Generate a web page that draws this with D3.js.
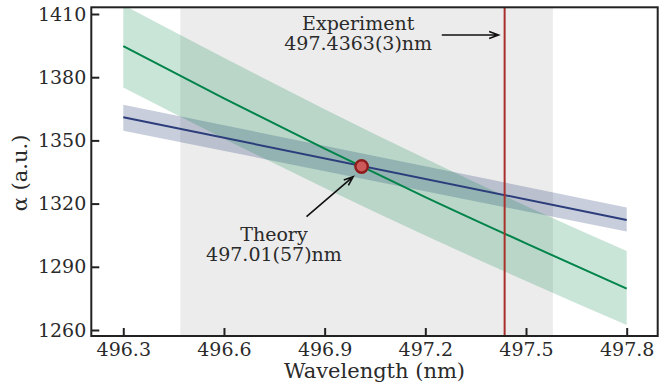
<!DOCTYPE html>
<html>
<head>
<meta charset="utf-8">
<script src="https://cdn.jsdelivr.net/npm/d3@7"></script>
<style>
  body { margin: 0; background: #fff; }
  text { font-family: "DejaVu Serif", serif; fill: #2a2a2a; }
</style>
</head>
<body>
<div id="chart"></div>
<script>
const width = 670;
const height = 384;
const margin = { top: 7.3, right: 12.3, bottom: 48, left: 91.3 };

// values
const wavelengths = [496.3, 496.6, 496.9, 497.2, 497.5, 497.8];
const greenCenter = [1394.7, 1370.0, 1346.1, 1323.1, 1301.1, 1279.6];
const greenLower = [1375.1, 1350.8, 1327.4, 1304.8, 1283.3, 1262.4];
const greenUpper = [1414.3, 1389.2, 1364.8, 1341.4, 1318.9, 1297.5];
const blueEnds = [496.3, 497.8];
const blueCenter = [1361.0, 1312.2];
const blueLower = [1354.6, 1306.7];
const blueUpper = [1366.9, 1318.2];

const theoryPoint = { x: 497.01, y: 1337.6 };
const theoryRange = [496.47, 497.58];
const experiment = 497.4363;

const xTicks = [496.3, 496.6, 496.9, 497.2, 497.5, 497.8];
const yTicks = [1260, 1290, 1320, 1350, 1380, 1410];
const xDomain = [496.2047, 497.8924];
const yDomain = [1257.15, 1413.18];

const labels = [
  { lines: ["Experiment", "497.4363(3)nm"], x: 497.0, y: 1402.4, arrow: [[497.249, 1400.0], [497.418, 1400.0]] },
  { lines: ["Theory", "497.01(57)nm"], x: 496.749, y: 1302.4, arrow: [[496.846, 1313.8], [496.985, 1332.8]] }
];

const svg = d3.select("#chart")
  .append("svg")
  .attr("width", width)
  .attr("height", height);

const x = d3.scaleLinear().domain(xDomain).range([margin.left, width - margin.right]);
const y = d3.scaleLinear().domain(yDomain).range([height - margin.bottom, margin.top]);

svg.append("clipPath").attr("id", "plot")
  .append("rect")
  .attr("x", margin.left).attr("y", margin.top)
  .attr("width", width - margin.left - margin.right)
  .attr("height", height - margin.top - margin.bottom);

const plot = svg.append("g").attr("clip-path", "url(#plot)");

// theory uncertainty span
plot.append("rect")
  .attr("x", x(theoryRange[0]))
  .attr("y", margin.top)
  .attr("width", x(theoryRange[1]) - x(theoryRange[0]))
  .attr("height", height - margin.top - margin.bottom)
  .attr("fill", "#ececec");

const blueRows = blueEnds.map((w, i) => ({ w, c: blueCenter[i], lo: blueLower[i], hi: blueUpper[i] }));
const greenRows = wavelengths.map((w, i) => ({ w, c: greenCenter[i], lo: greenLower[i], hi: greenUpper[i] }));

const area = d3.area().x(d => x(d.w)).y0(d => y(d.lo)).y1(d => y(d.hi));
const line = d3.line().x(d => x(d.w)).y(d => y(d.c)).curve(d3.curveMonotoneX);
area.curve(d3.curveMonotoneX);

plot.append("path").datum(blueRows)
  .attr("d", area)
  .attr("fill", "#283c78").attr("fill-opacity", 0.25);

plot.append("path").datum(greenRows)
  .attr("d", area)
  .attr("fill", "#008246").attr("fill-opacity", 0.21);

plot.append("path").datum(blueRows)
  .attr("d", line)
  .attr("fill", "none").attr("stroke", "#2b3d7a").attr("stroke-width", 2);

plot.append("path").datum(greenRows)
  .attr("d", line)
  .attr("fill", "none").attr("stroke", "#00844a").attr("stroke-width", 2);

plot.append("line")
  .attr("x1", x(experiment)).attr("x2", x(experiment))
  .attr("y1", margin.top).attr("y2", height - margin.bottom)
  .attr("stroke", "#a8302c").attr("stroke-width", 2);

plot.append("circle")
  .attr("cx", x(theoryPoint.x)).attr("cy", y(theoryPoint.y))
  .attr("r", 6.2)
  .attr("fill", "#cc5a5a").attr("stroke", "#8e1c1c").attr("stroke-width", 2.4);

// annotations
labels.forEach(l => {
  const t = svg.append("text")
    .attr("text-anchor", "middle")
    .attr("font-size", 19);
  l.lines.forEach((s, i) => {
    t.append("tspan").attr("x", x(l.x)).attr("y", y(l.y) + i * 20).text(s);
  });
  const [a, b] = l.arrow;
  const x1 = x(a[0]), y1 = y(a[1]), x2 = x(b[0]), y2 = y(b[1]);
  const ang = Math.atan2(y2 - y1, x2 - x1);
  const len = 10, spread = 0.36;
  svg.append("path")
    .attr("d", `M${x1},${y1}L${x2},${y2}` +
      `M${x2 - len * Math.cos(ang - spread)},${y2 - len * Math.sin(ang - spread)}L${x2},${y2}` +
      `L${x2 - len * Math.cos(ang + spread)},${y2 - len * Math.sin(ang + spread)}`)
    .attr("fill", "none").attr("stroke", "#111").attr("stroke-width", 1.6);
});

// axes
const xAxis = svg.append("g")
  .attr("transform", `translate(0,${height - margin.bottom})`)
  .call(d3.axisBottom(x).tickValues(xTicks).tickFormat(d3.format(".1f")).tickSizeInner(-8).tickSizeOuter(0).tickPadding(7));

const yAxis = svg.append("g")
  .attr("transform", `translate(${margin.left},0)`)
  .call(d3.axisLeft(y).tickValues(yTicks).tickFormat(d3.format("d")).tickSizeInner(-8).tickSizeOuter(0).tickPadding(5));

[xAxis, yAxis].forEach(g => {
  g.select(".domain").remove();
  g.selectAll(".tick line").attr("stroke", "#222").attr("stroke-width", 2);
  g.selectAll(".tick text").attr("font-size", 19).attr("font-family", "DejaVu Serif").attr("fill", "#2a2a2a");
});

svg.append("rect")
  .attr("x", margin.left).attr("y", margin.top)
  .attr("width", width - margin.left - margin.right)
  .attr("height", height - margin.top - margin.bottom)
  .attr("fill", "none").attr("stroke", "#222").attr("stroke-width", 2);

svg.append("text")
  .attr("x", (margin.left + width - margin.right) / 2)
  .attr("y", 378)
  .attr("text-anchor", "middle")
  .attr("font-size", 21)
  .text("Wavelength (nm)");

svg.append("text")
  .attr("transform", "translate(27,173) rotate(-90)")
  .attr("text-anchor", "middle")
  .attr("font-size", 21)
  .text("α (a.u.)");
</script>
</body>
</html>
